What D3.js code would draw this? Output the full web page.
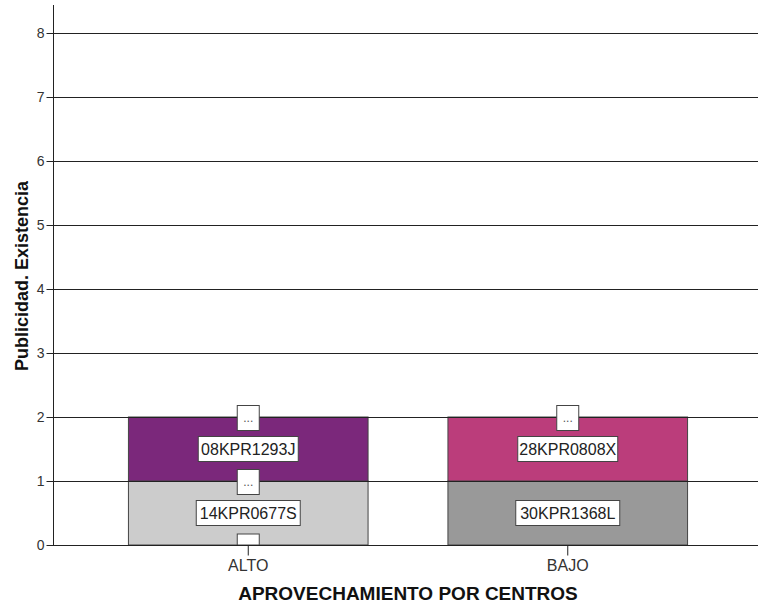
<!DOCTYPE html>
<html><head><meta charset="utf-8">
<script src="https://cdn.jsdelivr.net/npm/d3@7"></script>
<style>body{margin:0;background:#fff}svg{display:block}</style>
</head><body>
<script>
const categories = ["ALTO", "BAJO"];
const lowerValues = [1, 1];
const upperValues = [1, 1];
const lowerLabels = ["14KPR0677S", "30KPR1368L"];
const upperLabels = ["08KPR1293J", "28KPR0808X"];
const lowerColors = ["#cccccc", "#999999"];
const upperColors = ["#7b287b", "#bb3d7b"];
const yTicks = [0,1,2,3,4,5,6,7,8];

const W = 758, H = 605;
const svg = d3.select("body").append("svg").attr("width", W).attr("height", H);
const font = "Arial, 'Liberation Sans', sans-serif";

const y = d3.scaleLinear().domain([0, 8]).range([545, 33]);
const x = d3.scaleBand().domain(categories).range([88.5, 727.5]).padding(0);
const bw = x.bandwidth() * 0.75;
const cx = c => x(c) + x.bandwidth() / 2;

svg.append("g").selectAll("line").data(yTicks.filter(d => d > 0)).join("line")
  .attr("x1", 53).attr("x2", W).attr("y1", d => y(d) + 0.5).attr("y2", d => y(d) + 0.5)
  .attr("stroke", "#222").attr("stroke-width", 1.2);

const data = categories.map((c, i) => ({c, lo: lowerValues[i], up: upperValues[i], i}));
const g = svg.append("g");
data.forEach(d => {
  g.append("rect").attr("x", cx(d.c) - bw/2).attr("y", y(d.lo)).attr("width", bw)
    .attr("height", y(0) - y(d.lo)).attr("fill", lowerColors[d.i]).attr("stroke", "#444").attr("stroke-width", 1);
  g.append("rect").attr("x", cx(d.c) - bw/2).attr("y", y(d.lo + d.up)).attr("width", bw)
    .attr("height", y(d.lo) - y(d.lo + d.up)).attr("fill", upperColors[d.i]).attr("stroke", "#444").attr("stroke-width", 1);
});

svg.append("g").selectAll("line").data([1,2]).join("line")
  .attr("x1", 53).attr("x2", W).attr("y1", d => y(d) + 0.5).attr("y2", d => y(d) + 0.5)
  .attr("stroke", "#222").attr("stroke-width", 1.2);

function labelBox(px, py, text, w) {
  const gg = svg.append("g");
  gg.append("rect").attr("x", px - w/2).attr("y", py - 12.5).attr("width", w).attr("height", 25)
    .attr("fill", "#fff").attr("stroke", "#444").attr("stroke-width", 1);
  gg.append("text").attr("x", px).attr("y", py + 6).attr("text-anchor", "middle")
    .attr("font-family", font).attr("font-size", 16).attr("fill", "#222").text(text);
}
data.forEach(d => {
  labelBox(cx(d.c), y(d.lo / 2), lowerLabels[d.i], 104);
  labelBox(cx(d.c), y(d.lo + d.up / 2), upperLabels[d.i], 100);
});
function dots(px, py, clip) {
  const gg = svg.append("g");
  const h = clip ? 11 : 25;
  gg.append("rect").attr("x", px - 11).attr("y", py - 12.5).attr("width", 22).attr("height", h)
    .attr("fill", "#fff").attr("stroke", "#444").attr("stroke-width", 1);
  if (!clip) gg.append("text").attr("x", px).attr("y", py + 4).attr("text-anchor", "middle")
    .attr("font-family", font).attr("font-size", 12).attr("fill", "#555").text("...");
}
dots(cx("ALTO"), y(2) + 1, false);
dots(cx("ALTO"), y(1) + 1, false);
dots(cx("ALTO"), y(0) + 1.5, true);
dots(cx("BAJO"), y(2) + 1, false);

svg.append("line").attr("x1", 53).attr("x2", W).attr("y1", 545.5).attr("y2", 545.5)
  .attr("stroke", "#222").attr("stroke-width", 1.2);
const ya = svg.append("g").attr("transform", "translate(53.5,0)")
  .call(d3.axisLeft(y).tickValues(yTicks).tickSize(7).tickFormat(d3.format("d")));
ya.select(".domain").attr("d", "M0,5V545.5").attr("stroke", "#222");
ya.selectAll(".tick line").attr("stroke", "#222");
ya.selectAll(".tick text").attr("font-family", font).attr("font-size", 14).attr("fill", "#333").attr("x", -9);

const xa = svg.append("g").attr("transform", "translate(0,545.5)")
  .call(d3.axisBottom(x).tickSize(10).tickSizeOuter(0));
xa.select(".domain").remove();
xa.selectAll(".tick line").attr("stroke", "#222");
xa.selectAll(".tick text").attr("font-family", font).attr("font-size", 16).attr("fill", "#333").attr("y", 14);

svg.append("text").attr("x", 408).attr("y", 600).attr("text-anchor", "middle")
  .attr("font-family", font).attr("font-size", 19).attr("font-weight", "bold").attr("fill", "#111")
  .text("APROVECHAMIENTO POR CENTROS");
svg.append("text").attr("transform", "translate(28,276) rotate(-90)").attr("text-anchor", "middle")
  .attr("font-family", font).attr("font-size", 18).attr("font-weight", "bold").attr("fill", "#111")
  .text("Publicidad. Existencia");
</script>
</body></html>
